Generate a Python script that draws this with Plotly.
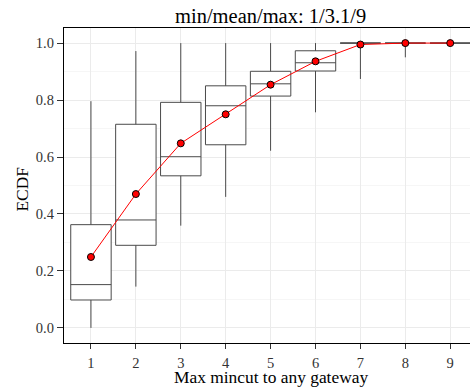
import plotly.graph_objects as go

# Data
categories = [1, 2, 3, 4, 5, 6, 7, 8, 9]
lower_whisker = [0.0, 0.145, 0.359, 0.46, 0.622, 0.757, 0.874, 0.95, 1.0]
q1 = [0.098, 0.29, 0.534, 0.643, 0.814, 0.902, 1.0, 1.0, 1.0]
median = [0.152, 0.379, 0.601, 0.780, 0.857, 0.931, 1.0, 1.0, 1.0]
q3 = [0.3625, 0.715, 0.792, 0.850, 0.901, 0.973, 1.0, 1.0, 1.0]
upper_whisker = [0.796, 0.972, 1.0, 1.0, 1.0, 1.0, 1.0, 1.0, 1.0]
mean_ecdf = [0.249, 0.47, 0.648, 0.75, 0.854, 0.936, 0.995, 1.0, 1.0]
y_ticks = [0.0, 0.2, 0.4, 0.6, 0.8, 1.0]
y_tick_labels = ["0.0", "0.2", "0.4", "0.6", "0.8", "1.0"]

W, H = 470, 389
ML, MR, MT, MB = 64, 0, 28, 46
PH = H - MT - MB

fig = go.Figure()
fig.add_trace(go.Box(
    x=categories, q1=q1, median=median, q3=q3,
    lowerfence=lower_whisker, upperfence=upper_whisker,
    width=0.9, whiskerwidth=0, fillcolor="white",
    line=dict(color="#4a4a4a", width=1), boxpoints=False,
    showlegend=False, hoverinfo="skip",
))
fig.add_trace(go.Scatter(
    x=categories, y=mean_ecdf, mode="lines+markers",
    line=dict(color="red", width=1),
    marker=dict(color="red", size=7, line=dict(color="black", width=1)),
    showlegend=False,
))

serif = "Liberation Serif"

def py_to_paper(py):
    return (H - MB - py) / PH

fig.update_layout(
    width=W, height=H,
    margin=dict(l=ML, r=MR, t=MT, b=MB, autoexpand=False),
    plot_bgcolor="white", paper_bgcolor="white",
    font=dict(family=serif, color="#333333"),
    xaxis=dict(
        range=[0.4, 9.44], tickmode="array", tickvals=categories,
        ticktext=[str(c) for c in categories],
        showgrid=True, gridcolor="#ebebeb", gridwidth=1,
        showline=True, linecolor="black", linewidth=1.3, mirror=True,
        ticks="outside", ticklen=5, tickcolor="#333333",
        ticklabelstandoff=1,
        tickfont=dict(size=14.5, color="#333333", family=serif),
        zeroline=False, automargin=False,
    ),
    yaxis=dict(
        range=[-0.053, 1.053], tickmode="array", tickvals=y_ticks,
        ticktext=y_tick_labels,
        showgrid=True, gridcolor="#ebebeb", gridwidth=1,
        minor=dict(dtick=0.1, tick0=0, showgrid=True, gridcolor="#f6f6f6", gridwidth=1),
        showline=True, linecolor="black", linewidth=1.3,
        ticks="outside", ticklen=6, tickcolor="#333333",
        tickfont=dict(size=14.5, color="#333333", family=serif),
        zeroline=False, automargin=False,
    ),
    annotations=[
        dict(text="min/mean/max: 1/3.1/9", xref="paper", yref="paper",
             x=(270.5 - ML) / (W - ML - MR), y=py_to_paper(16),
             xanchor="center", yanchor="middle", showarrow=False,
             font=dict(size=20.5, color="black", family=serif)),
        dict(text="Max mincut to any gateway", xref="paper", yref="paper",
             x=(270.5 - ML) / (W - ML - MR), y=py_to_paper(377),
             xanchor="center", yanchor="middle", showarrow=False,
             font=dict(size=17.4, color="black", family=serif)),
        dict(text="ECDF", xref="paper", yref="paper",
             x=(21.5 - ML) / (W - ML - MR), y=py_to_paper(189),
             xanchor="center", yanchor="middle", showarrow=False, textangle=-90,
             font=dict(size=17.4, color="black", family=serif)),
    ],
)

fig.write_html("out.html", config={"displayModeBar": False},
               post_script="document.body.style.margin='0px';")
